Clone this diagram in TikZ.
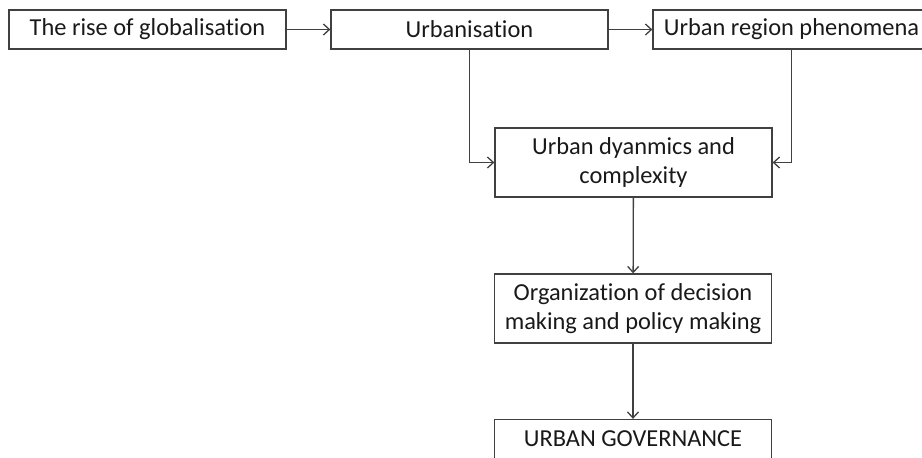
\documentclass[tikz,border=0pt]{standalone}
\usepackage{fontspec}
\setmainfont[Ligatures=NoCommon]{Carlito}
\usetikzlibrary{arrows.meta}

\begin{document}
\begin{tikzpicture}
        [x=0.5pt,y=0.5pt,line width=0.65pt,
        every node/.style={draw=black!75,rectangle,inner sep=0,minimum width=138.5pt,align=center,text=black!90,font=\fontsize{12.2}{14.5}\selectfont},
        arr/.style={draw=black!75,-{Straight Barb[length=3pt,width=5.5pt]}}]

        \useasboundingbox (0,0) rectangle (922,457);

        \node[minimum height=19.5pt] (glob) at (147.5, 427.5) {The rise of globalisation};
        \node[minimum height=19.5pt] (urb) at (469.5, 427.5) {Urbanisation};
        \node[minimum height=19.5pt] (region) at (791.5, 427.5) {Urban region phenomena};
        \node[minimum height=34.5pt] (dyn) at (633.5, 294.5) {Urban dyanmics and\\complexity};
        \node[minimum height=34.5pt] (org) at (633, 148.5) {Organization of decision\\making and policy making};
        \node[minimum height=19.5pt] (gov) at (633, 18) {URBAN GOVERNANCE};

        \draw[arr] (glob) -- (urb);
        \draw[arr] (urb) -- (region);
        \draw[arr] (urb.south) |- (dyn.west);
        \draw[arr] (region.south) |- (dyn.east);
        \draw[arr] (dyn) -- (org);
        \draw[arr] (org) -- (gov);
      \end{tikzpicture}
\end{document}
